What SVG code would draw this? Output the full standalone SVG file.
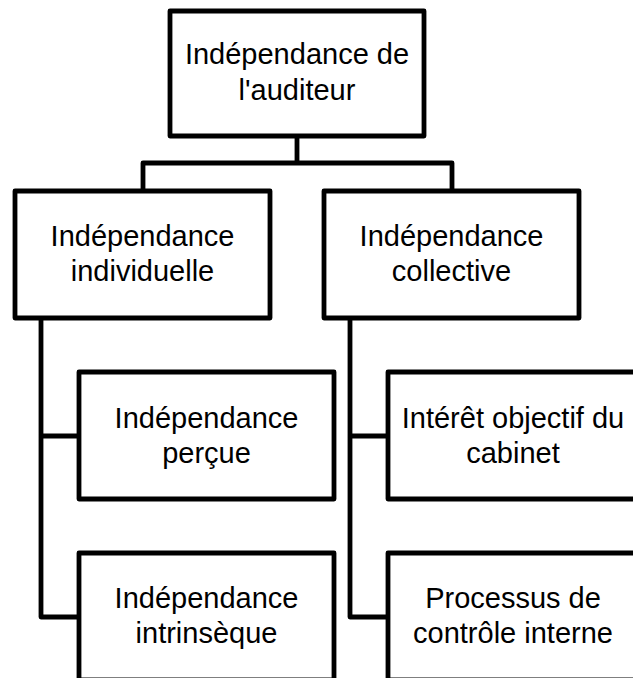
<svg xmlns="http://www.w3.org/2000/svg" width="633" height="678" viewBox="0 0 633 678">
<style>
.box{fill:#fff;stroke:#000;stroke-width:4.8;stroke-linejoin:round}
.conn{fill:none;stroke:#000;stroke-width:4.8;stroke-linejoin:round}
.lbl{font-family:"Liberation Sans",Arial,sans-serif;font-size:29px;fill:#000;text-anchor:middle}
</style>
<rect width="633" height="678" fill="#fff"/>
<g id="connectors">
<path class="conn" d="M297,136 V163 M143,191 V163 H452 V191"/>
<path class="conn" d="M41,318 V617 H79 M41,436 H79"/>
<path class="conn" d="M350,318 V617 H388 M350,436 H388"/>
</g>
<g id="n-root">
<rect class="box" x="170" y="11" width="254" height="125"/>
<text class="lbl" x="297" y="64">Indépendance de</text>
<text class="lbl" x="297" y="100">l'auditeur</text>
</g>
<g id="n-individuelle">
<rect class="box" x="15" y="191" width="255" height="127"/>
<text class="lbl" x="142.5" y="246">Indépendance</text>
<text class="lbl" x="142.5" y="281">individuelle</text>
</g>
<g id="n-collective">
<rect class="box" x="324" y="191" width="255" height="127"/>
<text class="lbl" x="451.5" y="246">Indépendance</text>
<text class="lbl" x="451.5" y="281">collective</text>
</g>
<g id="n-percue">
<rect class="box" x="79" y="372" width="255" height="127"/>
<text class="lbl" x="206.5" y="428">Indépendance</text>
<text class="lbl" x="206.5" y="463">perçue</text>
</g>
<g id="n-interet">
<rect class="box" x="388" y="372" width="255" height="127"/>
<text class="lbl" x="513" y="428">Intérêt objectif du</text>
<text class="lbl" x="513" y="463">cabinet</text>
</g>
<g id="n-intrinseque">
<rect class="box" x="79" y="553" width="255" height="127"/>
<text class="lbl" x="206.5" y="608">Indépendance</text>
<text class="lbl" x="206.5" y="643">intrinsèque</text>
</g>
<g id="n-processus">
<rect class="box" x="388" y="553" width="255" height="127"/>
<text class="lbl" x="513" y="608">Processus de</text>
<text class="lbl" x="513" y="643">contrôle interne</text>
</g>
</svg>
